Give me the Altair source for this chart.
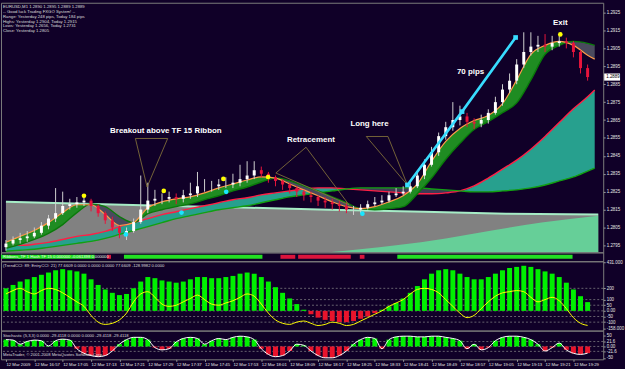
import json
import altair as alt
import pandas as pd

BG = "#100028"
W = 608
XDOM = [0, 167]
FONT = "Liberation Sans"
LBL = "#e4e4e4"

# ---------------- data ----------------
# minutes after 12 Mar 16:49, one candle every 2 minutes
bar_t = list(range(0, 166, 2))
open_first = 1.2794
closes = [
    1.2796, 1.2798, 1.2799, 1.2800, 1.2802, 1.2806, 1.2810, 1.2813, 1.2817, 1.2818,
    1.2819, 1.2820, 1.2817, 1.2813, 1.2809, 1.2805, 1.2802, 1.2803, 1.2808, 1.2815,
    1.2820, 1.2821, 1.2821, 1.2822, 1.2821, 1.2823, 1.2824, 1.2828, 1.2828, 1.2828,
    1.2829, 1.2829, 1.2830, 1.2832, 1.2834, 1.2837, 1.2835, 1.2833, 1.2831, 1.2829,
    1.2827, 1.2825, 1.2823, 1.2822, 1.2820, 1.2819, 1.2818, 1.2817, 1.2815, 1.2815,
    1.2816, 1.2818, 1.2819, 1.2820, 1.2823, 1.2824, 1.2825, 1.2828, 1.2834, 1.2840,
    1.2847, 1.2856, 1.2861, 1.2865, 1.2867, 1.2864, 1.2863, 1.2865, 1.2869, 1.2875,
    1.2882, 1.2887, 1.2896, 1.2903, 1.2906, 1.2907, 1.2906, 1.2908, 1.2909, 1.2908,
    1.2903, 1.2894, 1.2889]
highs = [
    1.2798, 1.2800, 1.2802, 1.2803, 1.2805, 1.2808, 1.2812, 1.2827, 1.2825, 1.2821,
    1.2822, 1.2823, 1.2821, 1.2818, 1.2814, 1.2811, 1.2806, 1.2805, 1.2810, 1.2834,
    1.2830, 1.2826, 1.2824, 1.2825, 1.2824, 1.2826, 1.2830, 1.2836, 1.2832, 1.2831,
    1.2832, 1.2833, 1.2835, 1.2840, 1.2842, 1.2842, 1.2839, 1.2836, 1.2834, 1.2832,
    1.2830, 1.2828, 1.2826, 1.2825, 1.2823, 1.2822, 1.2821, 1.2820, 1.2819, 1.2817,
    1.2818, 1.2820, 1.2822, 1.2823, 1.2825, 1.2827, 1.2828, 1.2831, 1.2836, 1.2843,
    1.2850, 1.2858, 1.2864, 1.2875, 1.2873, 1.2869, 1.2866, 1.2868, 1.2871, 1.2878,
    1.2885, 1.2891, 1.2899, 1.2914, 1.2914, 1.2912, 1.2913, 1.2912, 1.2913, 1.2911,
    1.2909, 1.2904, 1.2896]
lows = [
    1.2792, 1.2795, 1.2796, 1.2797, 1.2799, 1.2801, 1.2804, 1.2808, 1.2812, 1.2815,
    1.2816, 1.2817, 1.2814, 1.2811, 1.2807, 1.2803, 1.2799, 1.2798, 1.2802, 1.2807,
    1.2813, 1.2817, 1.2818, 1.2819, 1.2818, 1.2819, 1.2821, 1.2822, 1.2825, 1.2825,
    1.2826, 1.2827, 1.2827, 1.2828, 1.2830, 1.2832, 1.2833, 1.2830, 1.2828, 1.2826,
    1.2824, 1.2822, 1.2820, 1.2819, 1.2817, 1.2816, 1.2815, 1.2814, 1.2813, 1.2812,
    1.2813, 1.2815, 1.2817, 1.2818, 1.2819, 1.2822, 1.2823, 1.2824, 1.2827, 1.2832,
    1.2839, 1.2845, 1.2854, 1.2859, 1.2862, 1.2861, 1.2860, 1.2861, 1.2863, 1.2868,
    1.2873, 1.2880, 1.2885, 1.2894, 1.2901, 1.2903, 1.2903, 1.2904, 1.2906, 1.2905,
    1.2900, 1.2891, 1.2887]

# ribbons (sampled every 4 minutes)
rib_t = list(range(0, 165, 4)) + [166]
fast_line = [
    1.27967, 1.28000, 1.28033, 1.28077, 1.28133, 1.28177, 1.28177, 1.28122, 1.28061, 1.28077,
    1.28160, 1.28193, 1.28210, 1.28221, 1.28243, 1.28271, 1.28293, 1.28315, 1.28332, 1.28326,
    1.28293, 1.28260, 1.28227, 1.28193, 1.28166, 1.28155, 1.28166, 1.28193, 1.28227, 1.28293,
    1.28420, 1.28531, 1.28603, 1.28647, 1.28675, 1.28741, 1.28874, 1.29017, 1.29067, 1.29089,
    1.29067, 1.29012, 1.28990]
fast_slow = [
    1.27934, 1.27956, 1.27983, 1.28017, 1.28066, 1.28133, 1.28182, 1.28166, 1.28111, 1.28077,
    1.28127, 1.28149, 1.28166, 1.28182, 1.28205, 1.28227, 1.28254, 1.28276, 1.28304, 1.28326,
    1.28310, 1.28282, 1.28254, 1.28221, 1.28188, 1.28155, 1.28149, 1.28155, 1.28166, 1.28238,
    1.28326, 1.28431, 1.28520, 1.28597, 1.28641, 1.28691, 1.28746, 1.28874, 1.29017, 1.29067,
    1.29089, 1.29078, 1.29067]
slow_red = [
    1.27950, 1.27950, 1.27956, 1.27967, 1.27983, 1.28000, 1.28011, 1.28028, 1.28055, 1.28077,
    1.28099, 1.28122, 1.28138, 1.28155, 1.28171, 1.28188, 1.28205, 1.28216, 1.28232, 1.28243,
    1.28254, 1.28265, 1.28271, 1.28271, 1.28265, 1.28260, 1.28254, 1.28249, 1.28243, 1.28238,
    1.28238, 1.28243, 1.28254, 1.28282, 1.28326, 1.28376, 1.28426, 1.28487, 1.28558, 1.28636,
    1.28713, 1.28780, 1.28818]
slow_green = [
    1.27917, 1.27923, 1.27928, 1.27939, 1.27950, 1.27961, 1.27972, 1.27989, 1.28011, 1.28033,
    1.28055, 1.28077, 1.28099, 1.28116, 1.28133, 1.28149, 1.28160, 1.28171, 1.28188, 1.28205,
    1.28221, 1.28232, 1.28243, 1.28254, 1.28265, 1.28271, 1.28271, 1.28271, 1.28271, 1.28271,
    1.28265, 1.28260, 1.28254, 1.28249, 1.28249, 1.28254, 1.28260, 1.28271, 1.28287, 1.28310,
    1.28332, 1.28365, 1.28382]

gray_t = [0, 22, 44, 69, 91, 118, 141, 167]
gray_top = [1.28193, 1.28182, 1.28171, 1.28160, 1.28149, 1.28138, 1.28127, 1.28122]
mint_t = [91, 110, 124, 137, 151, 167]
mint_top = [1.27911, 1.27950, 1.27989, 1.28033, 1.28077, 1.28116]

PRICE_MIN, PRICE_MAX = 1.27911, 1.29305
price_ticks = [1.2795, 1.2805, 1.2815, 1.2825, 1.2835, 1.2845, 1.2855,
               1.2865, 1.2875, 1.2885, 1.2895, 1.2905, 1.2915, 1.2925]

yellow_t = [22.0, 44.5, 61.3, 73.9, 156.3]
yellow_p = [1.28227, 1.28254, 1.28321, 1.28332, 1.29128]
cyan_t = [33.8, 49.5, 62.1, 100.5]
cyan_p = [1.28011, 1.28133, 1.28249, 1.28127]
move_t = [113.2, 128.6, 143.7]
move_p = [1.28287, 1.28697, 1.29111]

tri_id = [1, 1, 1, 1, 2, 2, 2, 2, 3, 3, 3, 3]
tri_t = [36.5, 45.6, 39.8, 36.5, 84.6, 76.1, 96.7, 84.6, 101.6, 107.7, 113.2, 101.6]
tri_p = [1.28547, 1.28547, 1.28276, 1.28547, 1.28498, 1.28354, 1.28177, 1.28498,
         1.28558, 1.28558, 1.28287, 1.28558]

note_text = ["Breakout above TF 15 Ribbon", "Retracement", "Long here", "70 pips", "Exit"]
note_t = [45.1, 86.0, 102.5, 131.0, 156.3]
note_p = [1.28586, 1.28536, 1.28625, 1.28918, 1.29194]

header_lines = [
    "EURUSD,M1  1.2890 1.2895 1.2889 1.2889",
    "-- Good luck Trading FXGO System! --",
    "Range: Yesterday 248 pips, Today 184 pips",
    "Highs: Yesterday 1.2904, Today 1.2915",
    "Lows: Yesterday 1.2656, Today 1.2731",
    "Close: Yesterday 1.2805",
]

status_text = "Ribbons_TF 1 Hash TF 15 0.000000 -0.061398 0.000000"
status_start = [0, 29.4, 34.1, 77.5, 82.4, 99.5, 109.9]
status_end = [26.0, 30.5, 72.5, 81.6, 97.0, 100.8, 158.5]
status_state = ["up", "down", "up", "down", "down", "down", "up"]

trend_cci = [
    200, 230, 260, 280, 300, 320, 340, 360, 370, 360,
    350, 330, 280, 230, 190, 160, 140, 150, 200, 260,
    300, 290, 270, 260, 250, 260, 280, 300, 300, 290,
    290, 300, 310, 330, 340, 330, 300, 260, 210, 160,
    110, 60, 10, -30, -60, -80, -90, -100, -100, -90,
    -70, -50, -20, 10, 40, 70, 110, 160, 220, 280,
    330, 360, 370, 360, 330, 300, 280, 280, 300, 330,
    360, 380, 390, 400, 390, 370, 350, 330, 300, 250,
    190, 130, 77.66]
entry_cci = [
    150, 180, 200, 170, 150, 180, 200, 190, 160, 120,
    80, 40, -40, -100, -120, -110, -80, -20, 80, 150,
    170, 120, 60, 40, 50, 80, 110, 140, 100, 60,
    50, 70, 90, 120, 150, 130, 60, -20, -80, -110,
    -120, -100, -90, -110, -130, -120, -100, -110, -130, -120,
    -90, -60, -30, 0, 40, 70, 100, 150, 190, 200,
    190, 160, 100, 40, -20, -60, -40, 20, 80, 130,
    160, 170, 180, 170, 120, 80, 100, 120, 90, 20,
    -60, -110, -129]
cci_header = "(TrendCCI: 89; EntryCCI: 21)  77.6609 0.0000 0.0000 0.0000 77.6609 -128.9982 0.0000"
cci_tick_values = [431, 200, 100, 50, 0, -50, -100, -158]
cci_tick_labels = ["431.000", "200", "100", "50", "0.00", "-50", "-100", "-158.000"]
cci_levels = [200, 100, 50, 0, -50, -100]

stoch = [
    30, 28, 10, 22, 28, 25, 2, 25, 32, 28,
    -10, -30, -40, -45, -40, -20, 10, 30, 40, 40,
    30, -5, -15, -10, 20, 35, 40, 35, 10, 25,
    35, 30, 40, 45, 42, 30, -10, -35, -45, -40,
    -20, 10, 5, -20, -40, -50, -50, -40, -20, 10,
    30, 40, 35, -10, 30, 42, 45, 45, 42, 42,
    45, 45, 40, 35, 25, -10, 10, -15, -5, 25,
    40, 45, 45, 40, 30, 10, -20, -5, 15, -15,
    -30, -35, -29.4]
stoch_header = "Stochastic (5,3,3) 0.0000 -29.4118 0.0000 0.0000 -29.4118 -29.4118"
copyright_text = "MetaTrader, \u00a9 2001-2008 MetaQuotes Software Corp."
stoch_tick_values = [50, 21.6, 0, -21.6, -50]
stoch_tick_labels = ["50", "21.6", "0.00", "-21.6", "-50"]
stoch_levels = [21.6, 0, -21.6]

time_ticks = list(range(0, 161, 8))
time_labels = ["12 Mar 2009", "12 Mar 16:57", "12 Mar 17:05", "12 Mar 17:13", "12 Mar 17:21",
               "12 Mar 17:29", "12 Mar 17:37", "12 Mar 17:45", "12 Mar 17:53", "12 Mar 18:01",
               "12 Mar 18:09", "12 Mar 18:17", "12 Mar 18:25", "12 Mar 18:33", "12 Mar 18:41",
               "12 Mar 18:49", "12 Mar 18:57", "12 Mar 19:05", "12 Mar 19:13", "12 Mar 19:21",
               "12 Mar 19:29"]

# ---------------- frames ----------------
opens = [open_first] + closes[:-1]
cdf = pd.DataFrame({"t": bar_t, "open": opens, "close": closes, "high": highs, "low": lows})
rdf = pd.DataFrame({"t": rib_t, "fast": fast_line, "fslow": fast_slow,
                    "red": slow_red, "green": slow_green})
gdf = pd.DataFrame({"t": gray_t, "top": gray_top})
mdf = pd.DataFrame({"t": mint_t, "top": mint_top})
ydf = pd.DataFrame({"t": yellow_t, "p": yellow_p})
cydf = pd.DataFrame({"t": cyan_t, "p": cyan_p})
mvdf = pd.DataFrame({"t": move_t, "p": move_p, "o": list(range(len(move_t)))})
tdf = pd.DataFrame({"tri": tri_id, "t": tri_t, "p": tri_p, "o": list(range(len(tri_t)))})
ndf = pd.DataFrame({"t": note_t, "p": note_p, "txt": note_text})
hdf = pd.DataFrame({"txt": ["\n".join(header_lines)]})
lastdf = pd.DataFrame({"p": [closes[-1]], "txt": [f"{closes[-1]:.4f}"]})

xscale = alt.Scale(domain=XDOM, nice=False, zero=False)
X = alt.X("t:Q", scale=xscale, axis=None)

price_axis = alt.Axis(orient="right", values=price_ticks, format=".4f", labelFontSize=4.5,
                      labelFont=FONT, labelColor=LBL, tickColor="#9a9a9a", tickSize=2,
                      labelPadding=1, domain=False, grid=False, labelOverlap=False)
pscale = alt.Scale(domain=[PRICE_MIN, PRICE_MAX], nice=False, zero=False)


def Yp(field):
    return alt.Y(field, scale=pscale, axis=price_axis, title=None)


gray = alt.Chart(gdf).transform_calculate(bot=str(PRICE_MIN)).mark_area(
    color="#818181").encode(x=X, y=Yp("top:Q"), y2="bot:Q")
mint = alt.Chart(mdf).transform_calculate(bot=str(PRICE_MIN)).mark_area(
    color="#66cf98", interpolate="monotone").encode(x=X, y=Yp("top:Q"), y2="bot:Q")
gray_edge = alt.Chart(gdf).mark_line(color="#a6ecc6", strokeWidth=2).encode(x=X, y=Yp("top:Q"))

rib = alt.Chart(rdf).transform_calculate(
    shi="max(datum.red, datum.green)", fhi="max(datum.fast, datum.fslow)")
teal = rib.mark_area(color="#27a08e", interpolate="monotone").encode(x=X, y=Yp("shi:Q"), y2="green:Q")
sdark = rib.mark_area(color="#3e3b55", interpolate="monotone").encode(x=X, y=Yp("shi:Q"), y2="red:Q")
red_ln = rib.mark_line(color="#ff1f45", strokeWidth=1.4, interpolate="monotone").encode(x=X, y=Yp("red:Q"))
grn_ln = rib.mark_line(color="#12a012", strokeWidth=1.4, interpolate="monotone").encode(x=X, y=Yp("green:Q"))
fgreen = rib.mark_area(color="#1f8c22", interpolate="monotone").encode(x=X, y=Yp("fhi:Q"), y2="fslow:Q")
fdark = rib.mark_area(color="#4a4a5e", interpolate="monotone").encode(x=X, y=Yp("fhi:Q"), y2="fast:Q")
fslow_ln = rib.mark_line(color="#0a7a0a", strokeWidth=1.4, interpolate="monotone").encode(x=X, y=Yp("fslow:Q"))
fast_ln = rib.mark_line(color="#ff9a4a", strokeWidth=1.2, interpolate="monotone").encode(x=X, y=Yp("fast:Q"))

cbase = alt.Chart(cdf)
up = "datum.close >= datum.open"
dn = "datum.close < datum.open"
wick_up = cbase.transform_filter(up).mark_rule(color="#d0d0d0", strokeWidth=1).encode(
    x=X, y=Yp("low:Q"), y2="high:Q")
body_up = cbase.transform_filter(up).mark_bar(color="#ffffff", size=3).encode(
    x=X, y=Yp("open:Q"), y2="close:Q")
wick_dn = cbase.transform_filter(dn).mark_rule(color="#e8143c", strokeWidth=1).encode(
    x=X, y=Yp("low:Q"), y2="high:Q")
body_dn = cbase.transform_filter(dn).mark_bar(color="#e8143c", size=3).encode(
    x=X, y=Yp("open:Q"), y2="close:Q")

ydots = alt.Chart(ydf).mark_circle(color="#ffff00", size=22, opacity=1).encode(x=X, y=Yp("p:Q"))
cdots = alt.Chart(cydf).mark_circle(color="#19e6ff", size=22, opacity=1).encode(x=X, y=Yp("p:Q"))
move_ln = alt.Chart(mvdf).mark_line(color="#38dcff", strokeWidth=2.6).encode(
    x=X, y=Yp("p:Q"), order="o:Q")
move_pt = alt.Chart(mvdf).mark_square(color="#38dcff", size=22, opacity=1).encode(x=X, y=Yp("p:Q"))
tris = alt.Chart(tdf).mark_line(color="#8e7c3c", strokeWidth=0.8).encode(
    x=X, y=Yp("p:Q"), detail="tri:N", order="o:Q")
notes = alt.Chart(ndf).mark_text(color="#ffffff", font=FONT, fontSize=8, fontWeight="bold").encode(
    x=X, y=Yp("p:Q"), text="txt:N")
header = alt.Chart(hdf).mark_text(align="left", baseline="top", lineBreak="\n", lineHeight=5,
                                  fontSize=4.3, font=FONT, color="#dcdcdc").encode(
    x=alt.value(2), y=alt.value(2), text="txt:N")
last_box = alt.Chart(lastdf).transform_calculate(hi="datum.p + 0.0002", lo="datum.p - 0.0002").mark_rect(
    color="#ffffff").encode(x=alt.value(W + 1), x2=alt.value(W + 17), y=Yp("hi:Q"), y2="lo:Q")
last_txt = alt.Chart(lastdf).mark_text(align="left", baseline="middle", fontSize=4.5, font=FONT,
                                       color="#000000").encode(x=alt.value(W + 3), y=Yp("p:Q"), text="txt:N")

main = alt.layer(gray, mint, gray_edge, teal, sdark, red_ln, grn_ln, fgreen, fdark, fslow_ln, fast_ln,
                 wick_up, wick_dn, body_up, body_dn, ydots, cdots, tris, move_ln, move_pt, notes,
                 header, last_box, last_txt).properties(width=W, height=252)

# ---------------- status strip ----------------
sdf = pd.DataFrame({"t0": status_start, "t1": status_end, "state": status_state})
status_bars = alt.Chart(sdf).mark_rect().encode(
    x=alt.X("t0:Q", scale=xscale, axis=None), x2="t1:Q",
    y=alt.value(2.5), y2=alt.value(6.5),
    color=alt.Color("state:N", scale=alt.Scale(domain=["up", "down"], range=["#22e022", "#dc143c"]),
                    legend=None))
status_lbl = alt.Chart(pd.DataFrame({"txt": [status_text]})).mark_text(
    align="left", baseline="middle", fontSize=4.2, font=FONT, color="#eaffea").encode(
    x=alt.value(2), y=alt.value(4.5), text="txt:N")
status = alt.layer(status_bars, status_lbl).properties(width=W, height=9)

# ---------------- CCI panel ----------------
cci_axis = alt.Axis(orient="right", values=cci_tick_values,
                    labelExpr=f"{json.dumps(cci_tick_labels)}[indexof({json.dumps(cci_tick_values)}, datum.value)]",
                    labelFontSize=4.5, labelFont=FONT, labelColor=LBL, tickColor="#9a9a9a", tickSize=2,
                    labelPadding=1, domain=False, grid=False, labelOverlap=False)
cscale = alt.Scale(domain=[-175, 440], nice=False, zero=False)


def Yc(field):
    return alt.Y(field, scale=cscale, axis=cci_axis, title=None)


ccidf = pd.DataFrame({"t": bar_t, "trend": trend_cci, "entry": entry_cci})
cci_lv = alt.Chart(pd.DataFrame({"lv": cci_levels})).mark_rule(
    color="#8c8c8c", strokeDash=[2, 2], strokeWidth=0.7).encode(y=Yc("lv:Q"))
cci_bars = alt.Chart(ccidf).transform_calculate(zero="0").mark_bar(size=5).encode(
    x=X, y=Yc("trend:Q"), y2="zero:Q",
    color=alt.condition("datum.trend >= 0", alt.value("#00f000"), alt.value("#e8142c")))
cci_line = alt.Chart(ccidf).mark_line(color="#ffff00", strokeWidth=1, interpolate="monotone").encode(
    x=X, y=Yc("entry:Q"))
cci_txt = alt.Chart(pd.DataFrame({"txt": [cci_header]})).mark_text(
    align="left", baseline="middle", fontSize=4.2, font=FONT, color="#dcdcdc").encode(
    x=alt.value(2), y=alt.value(5), text="txt:N")
cci = alt.layer(cci_lv, cci_bars, cci_line, cci_txt).properties(width=W, height=70)

# ---------------- Stochastic panel ----------------
st_axis = alt.Axis(orient="right", values=stoch_tick_values,
                   labelExpr=f"{json.dumps(stoch_tick_labels)}[indexof({json.dumps(stoch_tick_values)}, datum.value)]",
                   labelFontSize=4.5, labelFont=FONT, labelColor=LBL, tickColor="#9a9a9a", tickSize=2,
                   labelPadding=1, domain=False, grid=False, labelOverlap=False)
sscale = alt.Scale(domain=[-56.5, 69.6], nice=False, zero=False)


def Ys(field):
    return alt.Y(field, scale=sscale, axis=st_axis, title=None)


time_axis = alt.Axis(values=time_ticks,
                     labelExpr=f"{json.dumps(time_labels)}[round(datum.value / 8)]",
                     labelAlign="left", labelFontSize=4.3, labelFont=FONT, labelColor=LBL,
                     tickColor="#9a9a9a", tickSize=2, labelPadding=1, domain=False, grid=False,
                     labelOverlap=False)
Xt = alt.X("t:Q", scale=xscale, axis=time_axis, title=None)

stdf = pd.DataFrame({"t": bar_t, "k": stoch})
st_lv = alt.Chart(pd.DataFrame({"lv": stoch_levels})).mark_rule(
    color="#8c8c8c", strokeDash=[2, 2], strokeWidth=0.7).encode(y=Ys("lv:Q"))
st_bars = alt.Chart(stdf).transform_calculate(zero="0").mark_bar(size=5).encode(
    x=Xt, y=Ys("k:Q"), y2="zero:Q",
    color=alt.condition("datum.k >= 0", alt.value("#00f000"), alt.value("#e8142c")))
st_line = alt.Chart(stdf).mark_line(color="#ffffff", strokeWidth=1, interpolate="monotone").encode(
    x=Xt, y=Ys("k:Q"))
st_txt = alt.Chart(pd.DataFrame({"txt": [stoch_header]})).mark_text(
    align="left", baseline="middle", fontSize=4.2, font=FONT, color="#dcdcdc").encode(
    x=alt.value(2), y=alt.value(5), text="txt:N")
copy_txt = alt.Chart(pd.DataFrame({"txt": [copyright_text]})).mark_text(
    align="left", baseline="middle", fontSize=4.2, font=FONT, color="#dcdcdc").encode(
    x=alt.value(2), y=alt.value(25), text="txt:N")
stochp = alt.layer(st_lv, st_bars, st_line, st_txt, copy_txt).properties(width=W, height=29)

chart = alt.vconcat(main, status, cci, stochp, spacing=0, bounds="flush").resolve_scale(
    x="independent", y="independent").properties(padding=0, background=BG).configure_view(
    stroke="#7c7c7c", strokeWidth=1)

chart.save("out.html", embed_options={"renderer": "svg", "actions": False})
